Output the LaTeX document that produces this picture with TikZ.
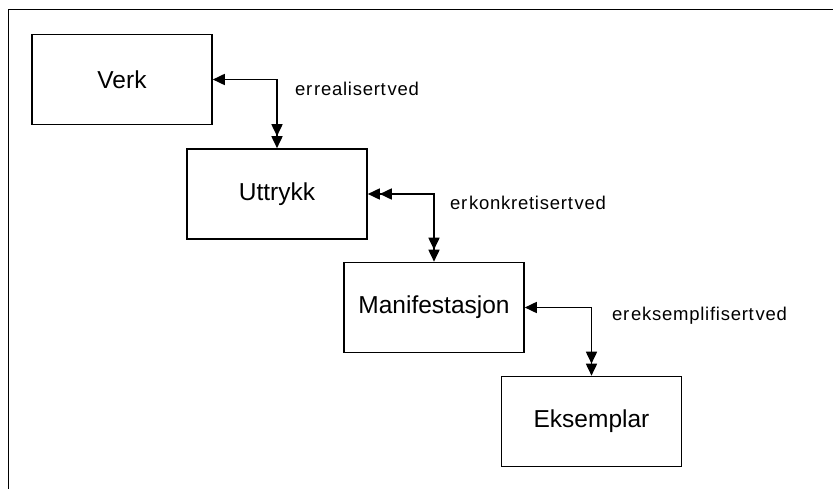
\documentclass[tikz,border=0pt]{standalone}
\usepackage{fontspec}
\setmainfont{Liberation Sans}
\newfontfamily\lblfont[WordSpace=0.3,LetterSpace=4]{Liberation Sans}
\usetikzlibrary{arrows.meta}
\tikzset{
  entity/.style={draw, line width=1.6pt, minimum width=180pt, minimum height=90pt, inner sep=0pt, font=\fontsize{24.5}{28}\selectfont},
  lbl/.style={anchor=west, inner sep=0pt, font=\lblfont\fontsize{18.5}{22}\selectfont},
  rel/.style={line width=1.7pt},
  single/.style={{Triangle[length=12pt,width=11pt]}-{Triangle[length=12pt,width=11pt] Triangle[length=12pt,width=11pt]}},
  doubleboth/.style={{Triangle[length=12pt,width=11pt] Triangle[length=12pt,width=11pt]}-{Triangle[length=12pt,width=11pt] Triangle[length=12pt,width=11pt]}},
}
\begin{document}
\begin{tikzpicture}[x=1pt,y=-1pt]
\useasboundingbox (0,0) rectangle (833,489);
\coordinate (fb) at (8.5,489);
\coordinate (ft) at (8.5,9.5);
\coordinate (fr) at (833,9.5);
\draw[line width=1.8pt] (fb) -- (ft) -- (fr);
\node[entity] (verk) at (122,79.5) {Verk};
\node[entity] (uttr) at (277,194) {Uttrykk};
\node[entity] (mani) at (434,307.5) {Manifestasjon};
\node[entity] (eks) at (591.5,421.5) {Eksemplar};
\draw[rel, single] (verk.east) -| (uttr.north);
\draw[rel, doubleboth] (uttr.east) -| (mani.north);
\draw[rel, single] (mani.east) -| (eks.north);
\node[lbl] (l1) at (295,89) {er realisert ved};
\node[lbl] (l2) at (450,203) {er konkretisert ved};
\node[lbl] (l3) at (612,316) {er eksemplifisert ved};
\end{tikzpicture}
\end{document}
